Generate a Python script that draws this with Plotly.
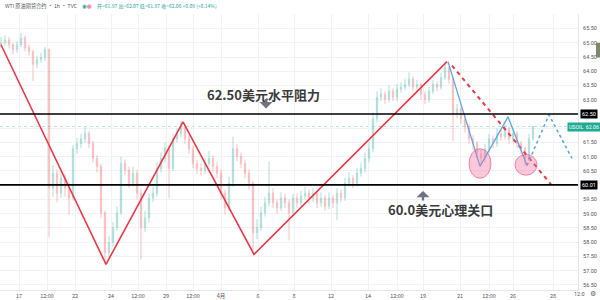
import plotly.graph_objects as go

# ---------------- data ----------------
closes = [65.00, 65.10, 64.93, 64.76, 64.93, 65.17, 64.83, 64.69, 64.24, 64.41,
          64.48, 64.76, 59.90, 60.42, 59.72, 60.24, 59.90, 59.55, 61.28, 61.46,
          61.63, 61.81, 61.46, 60.94, 60.66, 59.03, 57.64, 57.99, 58.51, 59.03,
          60.76, 60.52, 60.07, 60.42, 59.72, 58.51, 58.85, 59.55, 59.72, 60.59,
          60.94, 61.28, 60.59, 61.63, 61.81, 62.05, 61.63, 61.28, 60.76, 60.59,
          60.52, 60.76, 60.94, 60.66, 60.42, 59.72, 59.20, 60.07, 61.28, 61.01,
          60.76, 60.42, 60.07, 58.33, 58.51, 59.03, 59.38, 59.72, 59.38, 59.20,
          59.55, 59.38, 59.03, 59.55, 59.38, 59.62, 59.72, 59.55, 59.72, 59.38,
          59.55, 59.27, 59.55, 59.38, 59.72, 59.55, 60.07, 60.24, 60.07, 60.42,
          60.59, 60.94, 61.28, 62.33, 63.09, 63.19, 63.02, 63.30, 63.09, 63.37,
          63.44, 63.54, 63.72, 63.44, 63.54, 63.19, 63.02, 63.30, 63.54, 63.44,
          63.78, 64.13, 63.72, 62.50, 62.67, 62.33, 62.05, 61.63, 61.46, 61.11,
          60.94, 61.28, 61.63, 61.46, 61.81, 61.70, 61.98, 61.63, 61.81, 61.46,
          61.28, 60.94, 61.63, 62.06]
highs = [65.20, 65.25, 65.20, 65.00, 65.05, 65.35, 65.25, 64.95, 64.75, 64.55,
         64.65, 64.86, 64.80, 60.70, 60.55, 60.50, 60.40, 60.10, 61.40, 61.65,
         61.80, 62.05, 61.90, 61.55, 61.05, 60.75, 59.10, 58.20, 58.70, 59.25,
         61.00, 60.90, 60.65, 60.65, 60.55, 59.85, 59.10, 59.70, 59.95, 60.80,
         61.15, 61.50, 61.40, 61.80, 62.00, 62.26, 62.15, 61.75, 61.40, 60.90,
         60.75, 60.95, 61.20, 61.05, 60.80, 60.55, 59.85, 60.30, 61.70, 61.45,
         61.15, 60.90, 60.55, 60.15, 58.80, 59.25, 59.60, 60.83, 59.90, 59.50,
         59.75, 59.70, 59.50, 59.70, 59.70, 59.80, 59.95, 59.85, 59.90, 59.80,
         59.75, 59.65, 59.75, 59.65, 59.90, 59.85, 60.25, 60.45, 60.35, 60.60,
         60.80, 61.15, 61.50, 62.55, 63.30, 63.40, 63.30, 63.50, 63.40, 63.55,
         63.60, 63.75, 63.96, 63.80, 63.70, 63.60, 63.30, 63.45, 63.70, 63.65,
         63.95, 64.31, 64.20, 63.80, 62.85, 62.75, 62.45, 62.15, 61.75, 61.55,
         61.25, 61.45, 61.80, 61.75, 62.00, 61.95, 62.15, 62.05, 62.00, 61.90,
         61.55, 61.35, 61.80, 62.07]
lows = [64.85, 64.90, 64.80, 64.60, 64.65, 64.85, 64.70, 64.55, 63.65, 64.10,
        64.30, 64.35, 58.16, 59.60, 59.40, 59.55, 59.60, 58.96, 59.45, 61.10,
        61.30, 61.50, 61.30, 60.80, 60.45, 58.85, 57.26, 57.40, 57.85, 58.40,
        58.95, 60.35, 59.90, 59.95, 59.50, 57.40, 58.35, 58.70, 59.40, 59.60,
        60.45, 60.80, 59.55, 60.50, 61.50, 61.70, 61.45, 61.10, 60.60, 60.40,
        60.35, 60.40, 60.65, 60.50, 60.25, 59.50, 58.96, 59.10, 59.95, 60.85,
        60.60, 60.25, 59.85, 57.71, 58.10, 58.40, 58.90, 59.25, 59.20, 59.00,
        59.10, 59.20, 58.06, 58.90, 59.20, 59.25, 59.50, 59.35, 59.40, 59.20,
        59.25, 59.10, 59.15, 59.20, 58.78, 59.40, 59.45, 59.95, 59.90, 59.95,
        60.30, 60.45, 60.80, 61.15, 62.20, 62.95, 62.85, 62.90, 62.95, 62.95,
        63.25, 63.35, 63.45, 63.30, 63.30, 63.00, 62.85, 62.90, 63.20, 63.30,
        63.35, 63.70, 63.55, 61.56, 62.35, 62.15, 61.85, 61.45, 61.25, 60.95,
        60.73, 60.80, 61.15, 61.30, 61.35, 61.55, 61.60, 61.45, 61.50, 61.30,
        61.10, 60.69, 60.85, 61.55]
first_open = 64.95

tick_pos = [4.5, 11.5, 18.5, 27.5, 34.25, 41.25, 48, 55, 64.25, 73.25,
            82.5, 91.75, 99, 105.5, 114.75, 122, 128, 138]
tick_text = ["17", "12:00", "22", "24", "12:00", "29", "12:00", "4月", "6", "8",
             "12", "14", "12:00", "19", "21", "12:00", "26", "28"]
price_ticks = [56.5, 57.0, 57.5, 58.0, 58.5, 59.0, 59.5, 60.0, 60.5, 61.0,
               61.5, 62.0, 62.5, 63.0, 63.5, 64.0, 64.5, 65.0, 65.5]
# tick labels hidden behind the price badges in the reference
covered_ticks = [60.0, 62.0, 62.5]

levels = [62.50, 60.01]
level_labels = ["62.50", "60.01"]
last_price = 62.06

red_x = [0, 26.25, 45.5, 63.25, 111.5]
red_y = [64.93, 57.22, 62.22, 57.57, 64.34]
red_dash_x = [112.75, 137.5]
red_dash_y = [64.20, 60.03]
blue_x = [111.75, 119.75, 126.75, 131.5]
blue_y = [64.34, 60.66, 62.40, 60.69]
blue_dash_x = [131.5, 137, 142.75]
blue_dash_y = [60.69, 62.47, 60.94]

circles = [(117, 122.5, 60.24, 61.28), (128.5, 134, 60.35, 61.08)]

opens = [first_open] + closes[:-1]
x_idx = list(range(len(closes)))

# ---------------- figure ----------------
fig = go.Figure()
fig.add_trace(go.Candlestick(
    x=x_idx, open=opens, high=highs, low=lows, close=closes,
    increasing=dict(line=dict(color="#26a69a", width=1), fillcolor="#26a69a"),
    decreasing=dict(line=dict(color="#ef5350", width=1), fillcolor="#ef5350"),
    opacity=0.36, showlegend=False, hoverinfo="skip"))

RED = "#f23645"
BLUE = "#5aa7ee"
fig.add_trace(go.Scatter(x=red_x, y=red_y, mode="lines",
                         line=dict(color=RED, width=1.6), showlegend=False))
fig.add_trace(go.Scatter(x=red_dash_x, y=red_dash_y, mode="lines",
                         line=dict(color=RED, width=2, dash="4px,4px"), showlegend=False))
fig.add_trace(go.Scatter(x=blue_x, y=blue_y, mode="lines",
                         line=dict(color=BLUE, width=1.3), showlegend=False))
fig.add_trace(go.Scatter(x=blue_dash_x, y=blue_dash_y, mode="lines",
                         line=dict(color=BLUE, width=1.6, dash="3px,3px"), showlegend=False))

shapes = []
for lv in levels:
    shapes.append(dict(type="line", xref="paper", x0=0, x1=1, yref="y", y0=lv, y1=lv,
                       line=dict(color="#000000", width=1.6), layer="above"))
shapes.append(dict(type="line", xref="paper", x0=0, x1=1, yref="y", y0=last_price, y1=last_price,
                   line=dict(color="rgba(38,166,154,0.3)", width=1, dash="dot"), layer="below"))
for (a, b, c, d) in circles:
    shapes.append(dict(type="circle", xref="x", yref="y", x0=a, x1=b, y0=c, y1=d,
                       fillcolor="rgba(242,110,160,0.38)",
                       line=dict(color="rgba(233,60,120,0.55)", width=1), layer="above"))
# right toolbar element
shapes.append(dict(type="rect", xref="paper", yref="paper", x0=596/578, x1=600/578,
                   y0=(293-58)/279, y1=(293-43)/279, fillcolor="#7d8a6a", line=dict(width=0)))

annotations = []
txt_font = dict(family="Noto Sans CJK SC", size=13, color="#3a3a3a", weight=700)
annotations.append(dict(x=65.5, y=63.19, xref="x", yref="y", text="62.50美元水平阻力",
                        showarrow=False, font=txt_font))
annotations.append(dict(x=109.75, y=59.13, xref="x", yref="y", text="60.0美元心理关口",
                        showarrow=False, font=txt_font))
# arrows
annotations.append(dict(x=66.25, y=62.69, xref="x", yref="y", text="", showarrow=True,
                        ax=0, ay=-11, arrowhead=1, arrowsize=0.9, arrowwidth=2.4,
                        arrowcolor="#6f7280"))
annotations.append(dict(x=105.5, y=59.80, xref="x", yref="y", text="", showarrow=True,
                        ax=0, ay=11, arrowhead=1, arrowsize=0.9, arrowwidth=2.4,
                        arrowcolor="#6f7280"))
# price axis badges
for lv, lab in zip(levels, level_labels):
    annotations.append(dict(x=1, y=lv, xref="paper", yref="y", xanchor="left", xshift=2,
                            text=lab, showarrow=False, bgcolor="#000000", borderpad=1,
                            font=dict(family="Roboto", size=5.5, color="#ffffff")))
annotations.append(dict(x=567/578, y=last_price, xref="paper", yref="y", xanchor="left",
                        text="USOIL  " + f"{last_price:.2f}", showarrow=False,
                        bgcolor="#22ab94", borderpad=1,
                        font=dict(family="Roboto", size=5.2, color="#ffffff")))
# header
annotations.append(dict(x=3/578, y=(293-6)/279, xref="paper", yref="paper", xanchor="left",
                        yanchor="middle", showarrow=False,
                        text="WTI 原油期货合约 · 1h · TVC",
                        font=dict(family="Noto Sans CJK SC", size=5.2, color="#555555")))
annotations.append(dict(x=80/578, y=(293-6)/279, xref="paper", yref="paper", xanchor="left",
                        yanchor="middle", showarrow=False,
                        text="<span style='color:#26a69a'>◉</span><span style='color:#f48fb1'>●</span>",
                        font=dict(family="DejaVu Sans", size=5.5, color="#26a69a")))
annotations.append(dict(x=95/578, y=(293-6)/279, xref="paper", yref="paper", xanchor="left",
                        yanchor="middle", showarrow=False,
                        text="开=61.97 高=62.07 低=61.97 收=62.06 +0.09 (+0.14%)",
                        font=dict(family="Noto Sans CJK SC", size=5, color="#26a69a")))
# bottom right
annotations.append(dict(x=579/578, y=(293-297)/279, xref="paper", yref="paper",
                        xanchor="center", yanchor="middle", showarrow=False, text="12:0",
                        font=dict(family="Roboto", size=5.5, color="#555555")))
annotations.append(dict(x=593/578, y=(293-297)/279, xref="paper", yref="paper",
                        xanchor="center", yanchor="middle", showarrow=False, text="⚙",
                        font=dict(family="DejaVu Sans", size=7, color="#666666")))

fig.update_layout(
    width=600, height=300,
    margin=dict(l=0, r=22, t=14, b=7, pad=0),
    paper_bgcolor="#ffffff", plot_bgcolor="#ffffff",
    shapes=shapes, annotations=annotations, showlegend=False,
    boxgap=0.55,
    xaxis=dict(range=[-0.25, 144.25], tickmode="array", tickvals=tick_pos, ticktext=tick_text,
               tickfont=dict(family="Noto Sans CJK SC", size=5.5, color="#555555"),
               showgrid=True, gridcolor="#f1f2f5", gridwidth=1, zeroline=False,
               showline=True, linecolor="#e3e5ea", linewidth=1, ticks="",
               rangeslider=dict(visible=False), fixedrange=True, ticklabelstandoff=0),
    yaxis=dict(range=[56.32, 66.01], side="right", tickmode="array", tickvals=price_ticks,
               ticktext=["" if v in covered_ticks else f"{v:.2f}" for v in price_ticks],
               tickfont=dict(family="Roboto", size=5.5, color="#555555"),
               showgrid=True, gridcolor="#f1f2f5", gridwidth=1, zeroline=False,
               showline=True, linecolor="#e3e5ea", linewidth=1, ticks="",
               ticklabelstandoff=3, fixedrange=True),
)

fig.write_html("out.html")
